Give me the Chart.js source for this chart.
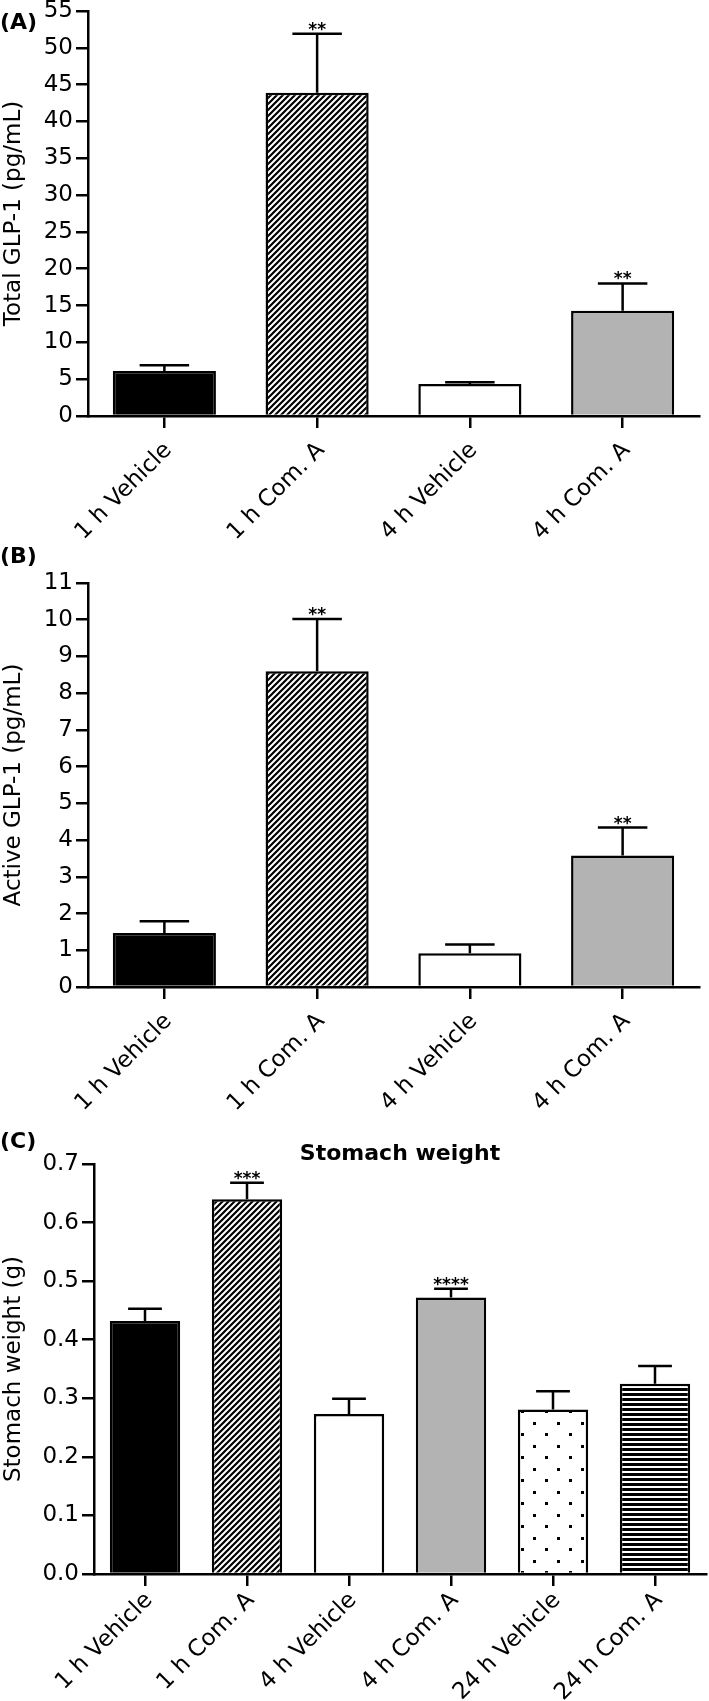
<!DOCTYPE html>
<html>
<head>
<meta charset="utf-8">
<script src="https://cdn.jsdelivr.net/npm/chart.js@4.4.1/dist/chart.umd.min.js"></script>
<style>
html,body{margin:0;padding:0;background:#fff;}
#wrap{position:relative;width:709px;height:1701px;}
.panel{position:absolute;left:0;width:709px;}
</style>
</head>
<body>
<div id="wrap">
<div class="panel" style="top:0;height:548px"><canvas id="chartA"></canvas></div>
<div class="panel" style="top:540px;height:578px"><canvas id="chartB"></canvas></div>
<div class="panel" style="top:1118px;height:583px"><canvas id="chartC"></canvas></div>
</div>
<script>
// data
const groups4=['1 h Vehicle','1 h Com. A','4 h Vehicle','4 h Com. A'];
const groups6=['1 h Vehicle','1 h Com. A','4 h Vehicle','4 h Com. A','24 h Vehicle','24 h Com. A'];

const totalGlp1=[6.1,43.9,4.35,14.3];
const totalGlp1Sem=[0.8,8.0,0.25,3.7];
const totalStars=['','**','','**'];

const activeGlp1=[1.47,8.6,0.92,3.58];
const activeGlp1Sem=[0.32,1.42,0.24,0.76];
const activeStars=['','**','','**'];

const stomachWeight=[0.432,0.640,0.273,0.472,0.281,0.325];
const stomachSem=[0.021,0.028,0.026,0.015,0.031,0.030];
const stomachStars=['','***','','****','',''];

const yMaxA=55, yStepA=5;
const yMaxB=11, yStepB=1;
const yMaxC=0.7, yStepC=0.1;

const FONT='"DejaVu Sans", Arial, sans-serif';
Chart.defaults.font.family=FONT;
Chart.defaults.color='#000';

function tile(w,h,draw){
const c=document.createElement('canvas');
c.width=w;c.height=h;
const g=c.getContext('2d');
g.fillStyle='#fff';g.fillRect(0,0,w,h);
g.fillStyle='#000';g.strokeStyle='#000';
draw(g);
return g.createPattern(c,'repeat');
}

const hatch=tile(6,6,g=>{
g.lineWidth=2.2;
g.beginPath();
g.moveTo(-1,1);g.lineTo(1,-1);
g.moveTo(-1,7);g.lineTo(7,-1);
g.moveTo(5,7);g.lineTo(7,5);
g.stroke();
});
const dots=tile(24,23,g=>{
g.fillRect(5,5,3,3);
g.fillRect(17,16,3,3);
});
const stripes=tile(5,5,g=>{
g.fillRect(0,0,5,3);
});
const gray='#b3b3b3';

const fills4=['#000',hatch,'#fff',gray];
const fills6=['#000',hatch,'#fff',gray,dots,stripes];

function overlay(sem,stars,letter,letterY,title,titleY){
return {
id:'overlay',
afterDatasetsDraw(chart){
const ctx=chart.ctx;
const meta=chart.getDatasetMeta(0);
const y=chart.scales.y;
const vals=chart.data.datasets[0].data;
ctx.save();
ctx.strokeStyle='#000';
ctx.lineWidth=2.5;
meta.data.forEach((bar,i)=>{
const top=y.getPixelForValue(vals[i]);
const end=y.getPixelForValue(vals[i]+sem[i]);
const half=bar.width*0.24;
ctx.beginPath();
ctx.moveTo(bar.x,top);ctx.lineTo(bar.x,end);
ctx.moveTo(bar.x-half,end);ctx.lineTo(bar.x+half,end);
ctx.stroke();
if(stars[i]){
ctx.fillStyle='#000';
ctx.font='bold 17px '+FONT;
ctx.textAlign='center';
ctx.textBaseline='alphabetic';
ctx.fillText(stars[i],bar.x,end+1);
}
});
ctx.restore();
},
afterDraw(chart){
const ctx=chart.ctx;
ctx.save();
ctx.fillStyle='#000';
ctx.font='bold 22px '+FONT;
ctx.textBaseline='alphabetic';
ctx.textAlign='left';
ctx.fillText(letter,0,letterY);
if(title){
ctx.textAlign='center';
ctx.font='bold 22px '+FONT;
const a=chart.chartArea;
ctx.fillText(title,(a.left+a.right)/2,titleY);
}
ctx.restore();
}
};
}

function makeChart(id,labels,values,fills,yMax,yStep,yTitle,dec,left,right,top,xHeight,barPct,labelPad,extra){
return new Chart(document.getElementById(id),{
type:'bar',
data:{
labels:labels,
datasets:[{
data:values,
backgroundColor:fills,
borderColor:'#000',
borderWidth:2.5,
borderSkipped:'start',
barPercentage:barPct,
categoryPercentage:1
}]
},
options:{
responsive:true,
maintainAspectRatio:false,
animation:false,
layout:{padding:{top:top,right:709-right,left:0,bottom:0}},
plugins:{legend:{display:false},tooltip:{enabled:false}},
scales:{
x:{
offset:true,
grid:{offset:false,drawOnChartArea:false,drawTicks:true,tickLength:12,color:'#000',lineWidth:2.5},
border:{display:true,color:'#000',width:2.5},
ticks:{color:'#000',font:{size:23},minRotation:45,maxRotation:45,autoSkip:false,padding:labelPad,labelOffset:4},
afterFit(s){s.height=xHeight;s.paddingLeft=0;s.paddingRight=0;}
},
y:{
min:0,max:yMax,
grid:{drawOnChartArea:false,drawTicks:true,tickLength:12,color:'#000',lineWidth:2.5},
border:{display:true,color:'#000',width:2.5},
ticks:{stepSize:yStep,color:'#000',font:{size:23},padding:3,
callback:v=>dec?Number(v).toFixed(dec):Math.round(v)},
title:{display:true,text:yTitle,color:'#000',font:{size:23},padding:{top:0,bottom:0}},
afterFit(s){s.width=left;s.paddingTop=0;s.paddingBottom=0;}
}
}
},
plugins:[extra]
});
}

makeChart('chartA',groups4,totalGlp1,fills4,yMaxA,yStepA,'Total GLP-1 (pg/mL)',0,88,699,11,132,0.675,9,
overlay(totalGlp1Sem,totalStars,'(A)',29,'',0));
makeChart('chartB',groups4,activeGlp1,fills4,yMaxB,yStepB,'Active GLP-1 (pg/mL)',0,88,699,43,131,0.675,9,
overlay(activeGlp1Sem,activeStars,'(B)',23,'',0));
makeChart('chartC',groups6,stomachWeight,fills6,yMaxC,yStepC,'Stomach weight (g)',1,94,706,46,127,0.69,1,
overlay(stomachSem,stomachStars,'(C)',30,'Stomach weight',42));
</script>
</body>
</html>
